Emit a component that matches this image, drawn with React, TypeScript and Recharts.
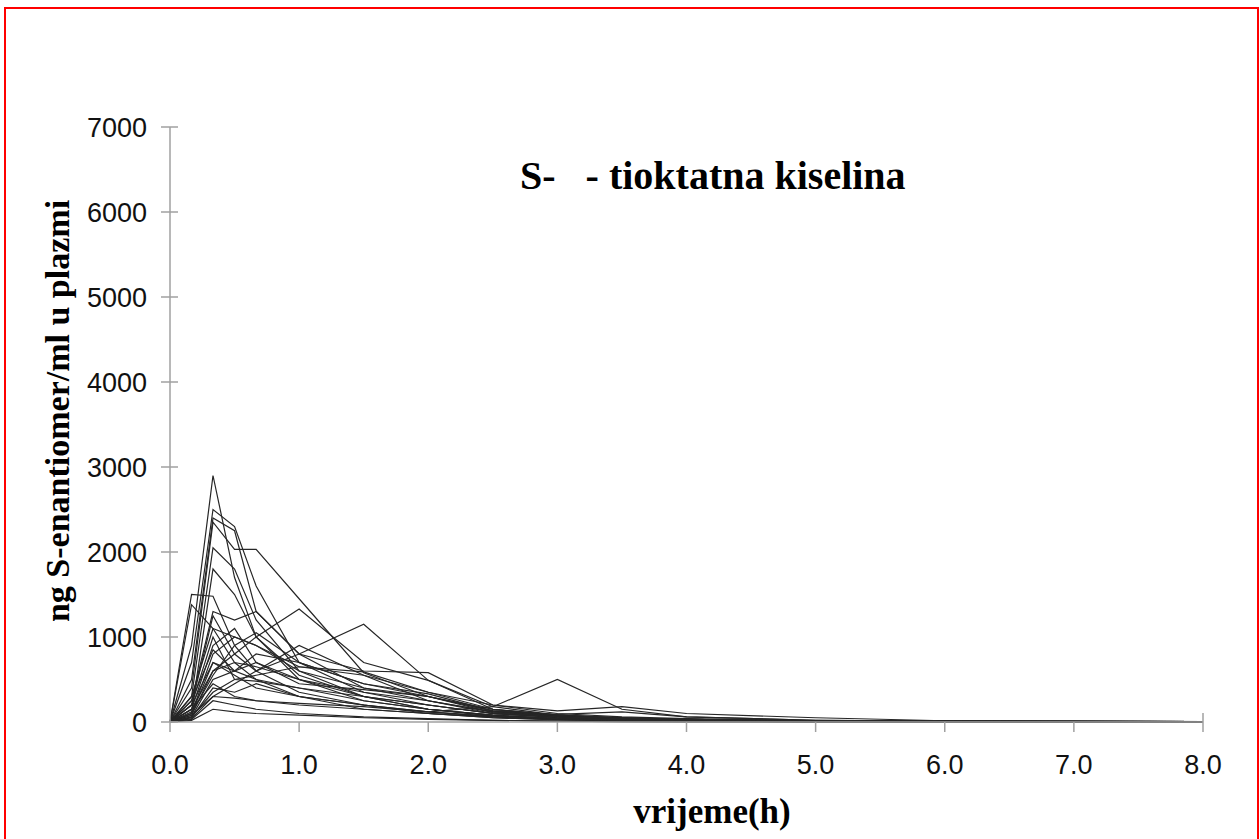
import { Line, LineChart, XAxis, YAxis } from "recharts";

// sampling times (h)
const times = [0, 0.167, 0.333, 0.5, 0.667, 1, 1.5, 2, 2.5, 3, 3.5, 4, 5, 6, 8];

// ng S-enantiomer / ml, one array per subject
const subjects: number[][] = [
  [0, 900, 2900, 1700, 1000, 550, 300, 150, 80, 40, 25, 15, 5, 5, 2],
  [0, 700, 2500, 2300, 1600, 700, 350, 200, 100, 60, 40, 20, 10, 5, 2],
  [0, 500, 2400, 2250, 1300, 800, 400, 250, 120, 70, 40, 25, 10, 10, 5],
  [0, 400, 2350, 2030, 2030, 1450, 580, 300, 130, 80, 50, 30, 10, 5, 2],
  [0, 300, 2050, 1800, 1200, 600, 300, 150, 80, 40, 20, 10, 5, 5, 2],
  [0, 1500, 1480, 900, 600, 350, 200, 120, 60, 30, 20, 10, 5, 0, 0],
  [0, 1380, 1100, 700, 500, 300, 150, 100, 50, 30, 15, 10, 5, 5, 2],
  [0, 150, 600, 800, 1000, 1330, 700, 490, 180, 80, 50, 30, 10, 10, 5],
  [0, 80, 300, 450, 600, 800, 1150, 490, 150, 70, 40, 25, 10, 10, 5],
  [0, 200, 700, 550, 400, 300, 200, 120, 180, 500, 150, 60, 20, 10, 5],
  [0, 250, 1300, 1200, 1300, 800, 600, 580, 200, 100, 60, 40, 15, 10, 5],
  [0, 300, 1100, 1000, 900, 650, 590, 350, 150, 80, 50, 30, 10, 5, 2],
  [0, 200, 1000, 500, 480, 400, 300, 200, 100, 60, 30, 20, 10, 5, 2],
  [0, 150, 900, 1100, 700, 500, 350, 250, 120, 70, 40, 25, 10, 5, 2],
  [0, 100, 800, 1000, 900, 600, 400, 300, 150, 80, 40, 20, 5, 5, 2],
  [0, 100, 700, 600, 800, 700, 450, 330, 130, 60, 30, 20, 5, 0, 0],
  [0, 80, 600, 700, 650, 500, 300, 200, 100, 50, 30, 15, 5, 5, 2],
  [0, 60, 500, 600, 500, 400, 250, 150, 80, 40, 20, 10, 5, 0, 0],
  [0, 50, 400, 350, 450, 300, 200, 100, 60, 30, 20, 10, 5, 5, 2],
  [0, 40, 300, 280, 250, 200, 150, 100, 50, 25, 15, 10, 0, 0, 0],
  [0, 30, 250, 200, 150, 100, 60, 40, 20, 10, 5, 0, 0, 0, 0],
  [0, 20, 150, 120, 100, 80, 50, 30, 20, 10, 5, 0, 0, 0, 0],
  [0, 120, 1800, 1500, 1000, 500, 250, 150, 70, 40, 20, 10, 5, 5, 2],
  [0, 200, 1250, 800, 600, 900, 550, 250, 100, 60, 30, 20, 10, 10, 5],
  [0, 100, 550, 900, 1050, 700, 450, 300, 130, 90, 120, 60, 20, 10, 5],
  [0, 60, 350, 500, 550, 650, 550, 350, 200, 130, 180, 100, 50, 15, 5],
  [0, 250, 850, 600, 700, 450, 380, 300, 110, 60, 40, 30, 15, 10, 5],
  [0, 150, 450, 300, 250, 220, 180, 120, 70, 40, 25, 15, 5, 5, 2],
];

const xTicks = [0, 1, 2, 3, 4, 5, 6, 7, 8];
const yTicks = [0, 1000, 2000, 3000, 4000, 5000, 6000, 7000];

const data = times.map((t, i) => {
  const row: Record<string, number> = { t };
  subjects.forEach((s, k) => {
    row[`s${k + 1}`] = s[i];
  });
  return row;
});

const axisColor = "#a0a0a0";
const tickFont = "'Liberation Sans', Arial, sans-serif";
const serif = "'Liberation Serif', 'Times New Roman', serif";

function YTick(props: any) {
  const { x, y, payload } = props;
  return (
    <g>
      <line x1={x - 9} x2={x + 8} y1={y} y2={y} stroke={axisColor} strokeWidth={1.5} />
      <text x={x - 23} y={y + 1} textAnchor="end" dominantBaseline="central" fontFamily={tickFont} fontSize={27} fill="#111">
        {payload.value}
      </text>
    </g>
  );
}

function XTick(props: any) {
  const { x, y, payload, index } = props;
  const last = index === xTicks.length - 1;
  return (
    <g>
      <line x1={x} x2={x} y1={last ? y - 9 : y} y2={y + 10} stroke={axisColor} strokeWidth={1.5} />
      <text x={x} y={y + 43} textAnchor="middle" dominantBaseline="central" fontFamily={tickFont} fontSize={27} fill="#111">
        {Number(payload.value).toFixed(1)}
      </text>
    </g>
  );
}

export default function App() {
  return (
    <div style={{ position: "absolute", left: 0, top: 0, width: 1260, height: 839, background: "#fff", overflow: "hidden" }}>
      <div
        style={{
          position: "absolute",
          left: 4,
          top: 7,
          width: 1251,
          height: 900,
          border: "2px solid #ff0000",
        }}
      />
      <LineChart
        width={1260}
        height={839}
        data={data}
        margin={{ top: 127, right: 57, bottom: 0, left: 0 }}
        style={{ position: "absolute", left: 0, top: 0 }}
      >
        <XAxis
          dataKey="t"
          type="number"
          domain={[0, 8]}
          ticks={xTicks}
          height={117}
          axisLine={{ stroke: axisColor, strokeWidth: 1.5 }}
          tickLine={false}
          tickSize={0}
          tickMargin={0}
          tick={<XTick />}
          interval={0}
        />
        <YAxis
          type="number"
          domain={[0, 7000]}
          ticks={yTicks}
          width={170}
          axisLine={{ stroke: axisColor, strokeWidth: 1.5 }}
          tickLine={false}
          tickSize={0}
          tickMargin={0}
          tick={<YTick />}
          interval={0}
        />
        {subjects.map((_, k) => (
          <Line
            key={k}
            type="linear"
            dataKey={`s${k + 1}`}
            stroke="#262626"
            strokeWidth={1.2}
            dot={false}
            isAnimationActive={false}
          />
        ))}
      </LineChart>
      <div
        style={{
          position: "absolute",
          left: 520,
          top: 152,
          fontFamily: serif,
          fontWeight: "bold",
          fontSize: 40,
          whiteSpace: "pre",
          color: "#000",
        }}
      >
        {"S-   - tioktatna kiselina"}
      </div>
      <div
        style={{
          position: "absolute",
          left: 58,
          top: 411,
          transform: "translate(-50%, -50%) rotate(-90deg)",
          fontFamily: serif,
          fontWeight: "bold",
          fontSize: 34,
          whiteSpace: "nowrap",
          color: "#000",
        }}
      >
        ng S-enantiomer/ml u plazmi
      </div>
      <div
        style={{
          position: "absolute",
          left: 712,
          top: 812,
          transform: "translate(-50%, -50%)",
          fontFamily: serif,
          fontWeight: "bold",
          fontSize: 35,
          whiteSpace: "nowrap",
          color: "#000",
        }}
      >
        vrijeme(h)
      </div>
    </div>
  );
}
